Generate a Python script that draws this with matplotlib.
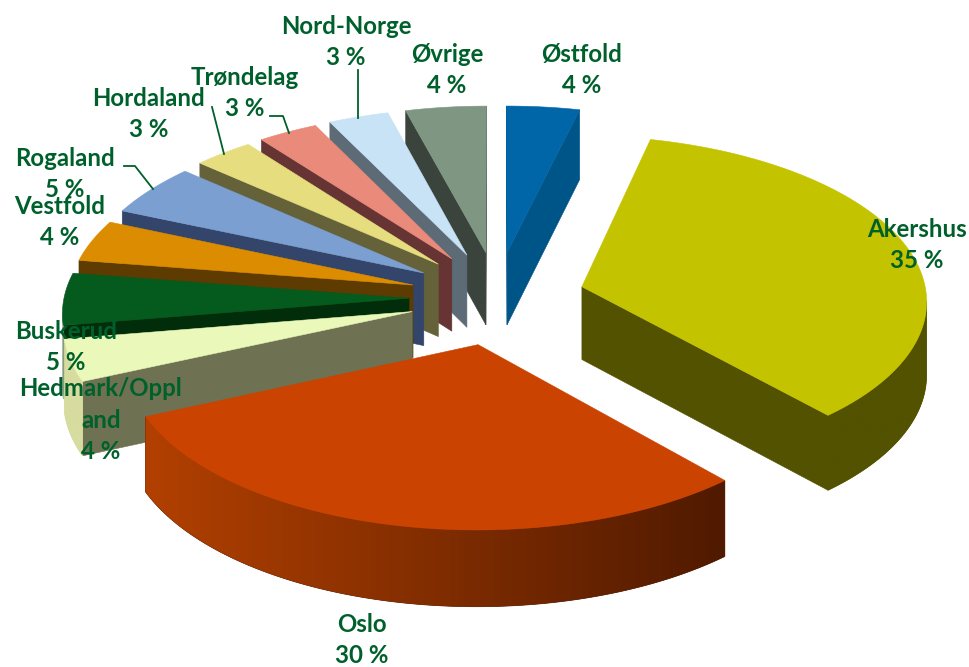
import numpy as np
import matplotlib
matplotlib.use("Agg")  # Headless backend
import matplotlib.pyplot as plt
from matplotlib.colors import to_rgb
from matplotlib.patches import Polygon

# Share per region, clockwise from twelve o'clock
REGIONS = ["Østfold", "Akershus", "Oslo", "Hedmark/Oppl\nand", "Buskerud", "Vestfold",
           "Rogaland", "Hordaland", "Trøndelag", "Nord-Norge", "Øvrige"]
SHARES = [3.75, 34.9, 30.0, 4.1, 5.1, 4.1, 5.1, 3.1, 3.1, 3.1, 4.15]

TOP_COLORS = ["#0066A8", "#C4C300", "#CB4300", "#EAF9B9", "#055A1E", "#DC8C00",
              "#7C9FD1", "#E6DD7F", "#E98A7A", "#C8E3F6", "#7F9683"]
SIDE_COLORS = ["#005588", "#525200", "#551B00", "#6E7252", "#012D0B", "#5E3B00",
               "#34456B", "#65623A", "#663433", "#5D6B77", "#3A443C"]
# rim wall colour at the left and right end of each slice
RIM_LEFT = ["#005588", "#525200", "#B24000", "#D7DC9F", "#A9B8A0", "#8A5A00",
            "#4A6390", "#8F8A50", "#8F4A45", "#7F95A5", "#55625A"]
RIM_RIGHT = ["#005588", "#525200", "#501A00", "#D7DC9F", "#A9B8A0", "#8A5A00",
             "#4A6390", "#8F8A50", "#8F4A45", "#7F95A5", "#55625A"]

LABEL_POS = [(582, 70), (917, 245), (362, 640), (101, 420), (66, 347), (60, 222),
             (65, 174), (149, 114), (245, 93), (346, 42), (447, 70)]
LEADERS = [
    [(358, 70), (358, 118)],
    [(270, 116), (283, 116), (289, 133)],
    [(212, 107), (224, 154)],
    [(124, 166), (135, 166), (153, 189)],
]

# Projection of the tilted disc onto the canvas (pixels)
CX, CY = 497, 298
RX, RY = 345, 164
PERSP = 0.075
EXPLODE_U, EXPLODE_V = 0.255, 0.285
DEPTH = 73
TEXT_COLOR = "#00602B"


def project(u, v):
    s = 1.0 / (1.0 + PERSP * v)
    return CX + RX * u * s, CY - RY * v * s, s


def slice_outline(start, end):
    """Apex followed by rim points, with the wall height of each point."""
    mid = np.radians((start + end) / 2)
    ou, ov = EXPLODE_U * np.sin(mid), EXPLODE_V * np.cos(mid)
    th = np.radians(np.linspace(start, end, max(int(end - start) * 2, 8)))
    us = np.concatenate([[ou], ou + np.sin(th)])
    vs = np.concatenate([[ov], ov + np.cos(th)])
    x, y, s = project(us, vs)
    return x, y, DEPTH * np.sqrt(s)


def draw_rim(ax, i, x, y, h, z):
    """Visible part of the curved wall, shaded left to right with a clipped image."""
    keep = np.where(np.diff(x) < 0)[0]
    if len(keep) == 0:
        return
    idx = np.arange(keep[0], keep[-1] + 2)
    px = np.concatenate([x[idx], x[idx][::-1]])
    py = np.concatenate([y[idx], (y[idx] + h[idx])[::-1]])
    left, right = np.array(to_rgb(RIM_LEFT[i])), np.array(to_rgb(RIM_RIGHT[i]))
    ramp = np.linspace(0, 1, 128)[:, None]
    grad = (left + (right - left) * ramp)[None, :, :]
    clip = Polygon(np.column_stack([px, py]), closed=True, transform=ax.transData)
    # same-colour underlay, so the image edge has no white fringe against the top face
    ax.fill(px, py, facecolor=RIM_RIGHT[i], edgecolor=RIM_RIGHT[i], linewidth=0.5, zorder=z - 0.1)
    im = ax.imshow(grad, extent=[px.min(), px.max(), py.max(), py.min()],
                   aspect="auto", interpolation="bilinear", zorder=z)
    im.set_clip_path(clip)


def draw_slice(ax, i, start, end, z):
    x, y, h = slice_outline(start, end)
    # the two straight walls, only where they face the viewer (clockwise outline runs left)
    if x[1] < x[0]:
        ax.fill([x[0], x[1], x[1], x[0]], [y[0], y[1], y[1] + h[1], y[0] + h[0]],
                facecolor=SIDE_COLORS[i], edgecolor=SIDE_COLORS[i], linewidth=0.4, zorder=z)
    if x[0] < x[-1]:
        ax.fill([x[-1], x[0], x[0], x[-1]], [y[-1], y[0], y[0] + h[0], y[-1] + h[-1]],
                facecolor=SIDE_COLORS[i], edgecolor=SIDE_COLORS[i], linewidth=0.4, zorder=z)
    draw_rim(ax, i, x[1:], y[1:], h[1:], z + 0.2)
    ax.fill(x, y, facecolor=TOP_COLORS[i], edgecolor=TOP_COLORS[i], linewidth=0.4, zorder=z + 0.5)


def main():
    plt.rcParams["font.family"] = ["Lato", "DejaVu Sans"]
    fig = plt.figure(figsize=(9.7, 6.67), dpi=100, facecolor="white")
    ax = fig.add_axes([0, 0, 1, 1])

    edges = np.concatenate([[0], np.cumsum(SHARES)]) * 360.0 / sum(SHARES)
    mids = (edges[:-1] + edges[1:]) / 2
    # far slices first, near slices painted over them
    order = np.argsort(-np.cos(np.radians(mids)), kind="stable")
    for rank, i in enumerate(order):
        draw_slice(ax, i, edges[i], edges[i + 1], rank + 1)

    ax.set_xlim(0, 970)
    ax.set_ylim(667, 0)
    ax.set_axis_off()

    for pts in LEADERS:
        xs, ys = zip(*pts)
        ax.plot(xs, ys, color=TEXT_COLOR, linewidth=1.3, zorder=30)
    for name, share, (lx, ly) in zip(REGIONS, SHARES, LABEL_POS):
        ax.text(lx, ly, f"{name}\n{round(share)} %", ha="center", va="center", fontsize=17.3,
                fontweight="bold", color=TEXT_COLOR, linespacing=1.44, zorder=40)

    fig.savefig("out.png", dpi=100)
    plt.close(fig)


if __name__ == "__main__":
    main()
